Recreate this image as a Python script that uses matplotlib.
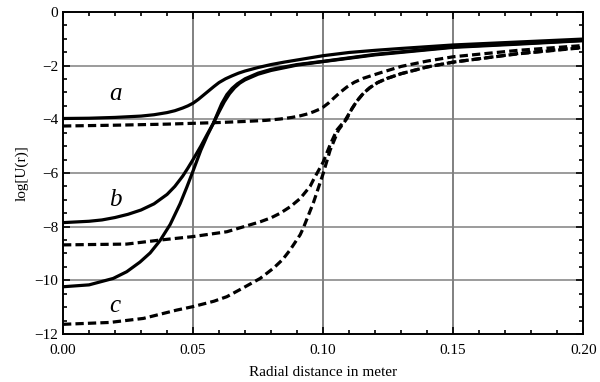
import matplotlib
matplotlib.use("Agg")
import matplotlib.pyplot as plt
from matplotlib.ticker import MultipleLocator

plt.rcParams['font.family'] = ['Liberation Serif', 'DejaVu Serif']

# ---- data ----
solid_a_x = [0, 0.01, 0.02, 0.03, 0.035, 0.04, 0.043, 0.046, 0.048, 0.05, 0.052, 0.054, 0.056, 0.058,
             0.06, 0.0625, 0.065, 0.0675, 0.07, 0.075, 0.08, 0.085, 0.09, 0.1, 0.11, 0.12, 0.13, 0.15,
             0.175, 0.2]
solid_a_y = [-3.97, -3.96, -3.93, -3.88, -3.83, -3.75, -3.68, -3.58, -3.50, -3.40, -3.26, -3.10, -2.94,
             -2.78, -2.63, -2.49, -2.38, -2.28, -2.20, -2.07, -1.96, -1.87, -1.79, -1.63, -1.51, -1.43,
             -1.36, -1.23, -1.12, -1.01]

solid_b_x = [0, 0.01, 0.015, 0.02, 0.025, 0.03, 0.035, 0.04, 0.043, 0.046, 0.048, 0.05, 0.053, 0.0555,
             0.0578, 0.06, 0.062, 0.064, 0.066, 0.068, 0.07, 0.075, 0.08, 0.09, 0.1, 0.12, 0.15, 0.175,
             0.2]
solid_b_y = [-7.85, -7.80, -7.75, -7.66, -7.54, -7.38, -7.15, -6.80, -6.50, -6.12, -5.82, -5.50, -5.00,
             -4.55, -4.15, -3.72, -3.35, -3.05, -2.82, -2.65, -2.53, -2.32, -2.18, -1.98, -1.85, -1.60,
             -1.32, -1.20, -1.07]

solid_c_x = [0, 0.01, 0.0193, 0.0245, 0.0296, 0.0335, 0.0373, 0.0412, 0.045, 0.0476, 0.0501, 0.053,
             0.0555, 0.0578, 0.0595, 0.061, 0.063, 0.065, 0.067, 0.07, 0.075, 0.08, 0.09, 0.1, 0.12,
             0.15, 0.175, 0.2]
solid_c_y = [-10.24, -10.17, -9.93, -9.68, -9.32, -8.98, -8.52, -7.92, -7.15, -6.53, -5.90, -5.15,
             -4.60, -4.15, -3.76, -3.42, -3.08, -2.85, -2.68, -2.49, -2.28, -2.14, -1.96, -1.84, -1.58,
             -1.30, -1.18, -1.06]

dash_a_x = [0, 0.02, 0.04, 0.05, 0.06, 0.07, 0.078, 0.0835, 0.088, 0.0912, 0.094, 0.0963, 0.0985,
            0.1, 0.102, 0.104, 0.1065, 0.1091, 0.112, 0.1155, 0.1219, 0.13, 0.14, 0.15, 0.175, 0.2]
dash_a_y = [-4.25, -4.22, -4.18, -4.15, -4.12, -4.08, -4.04, -3.99, -3.93, -3.87, -3.80, -3.72, -3.63,
            -3.55, -3.40, -3.22, -3.00, -2.80, -2.62, -2.47, -2.27, -2.03, -1.83, -1.67, -1.43, -1.25]

dash_b_x = [0, 0.0245, 0.0373, 0.05, 0.063, 0.0706, 0.0758, 0.08, 0.0835, 0.0875, 0.0912, 0.095,
            0.0963, 0.1, 0.1027, 0.1053, 0.1085, 0.111, 0.113, 0.1155, 0.118, 0.121, 0.1245, 0.13, 0.14,
            0.15, 0.175, 0.2]
dash_b_y = [-8.68, -8.65, -8.50, -8.37, -8.19, -7.97, -7.82, -7.67, -7.50, -7.25, -6.95, -6.50,
            -6.25, -5.60, -4.95, -4.40, -4.03, -3.62, -3.32, -3.03, -2.82, -2.63, -2.48, -2.30, -2.05,
            -1.87, -1.55, -1.32]

dash_c_x = [0, 0.018, 0.0309, 0.0437, 0.05, 0.058, 0.063, 0.0693, 0.0758, 0.0809, 0.0845, 0.0873,
            0.0912, 0.0924, 0.0963, 0.1, 0.1027, 0.1059, 0.1091, 0.111, 0.113, 0.1155, 0.118, 0.121,
            0.1245, 0.13, 0.14, 0.15, 0.175, 0.2]
dash_c_y = [-11.64, -11.57, -11.42, -11.11, -10.98, -10.78, -10.61, -10.28, -9.93, -9.55, -9.22, -8.87,
            -8.30, -8.05, -7.10, -6.03, -5.15, -4.40, -3.98, -3.62, -3.32, -3.03, -2.82, -2.63, -2.48,
            -2.30, -2.05, -1.87, -1.56, -1.33]

curve_labels = ['a', 'b', 'c']
label_x = [0.02, 0.02, 0.02]
label_y = [-3.05, -7.0, -10.95]

x_ticks = [0.0, 0.05, 0.10, 0.15, 0.20]
x_ticklabels = ['0.00', '0.05', '0.10', '0.15', '0.20']
y_ticks = [0, -2, -4, -6, -8, -10, -12]
y_ticklabels = ['0', '\u22122', '\u22124', '\u22126', '\u22128', '\u221210', '\u221212']

# ---- figure ----
fig = plt.figure(figsize=(6.0, 3.82), dpi=100)
ax = fig.add_axes([0.105, 0.1257, 0.867, 0.843])

lw = 2.3
dash = (0, (2.6, 1.3))
for xs, ys in [(solid_a_x, solid_a_y), (solid_b_x, solid_b_y), (solid_c_x, solid_c_y)]:
    ax.plot(xs, ys, color='black', lw=lw, solid_capstyle='butt', solid_joinstyle='round', zorder=3)
for xs, ys in [(dash_a_x, dash_a_y), (dash_b_x, dash_b_y), (dash_c_x, dash_c_y)]:
    ax.plot(xs, ys, color='black', lw=lw, linestyle=dash, zorder=3)

for t, lx, ly in zip(curve_labels, label_x, label_y):
    ax.text(lx, ly, t, fontsize=18, fontstyle='italic', ha='center', va='center')

ax.set_xlim(0, 0.2)
ax.set_ylim(-12, 0)
ax.set_xticks(x_ticks)
ax.set_xticklabels(x_ticklabels)
ax.set_yticks(y_ticks)
ax.set_yticklabels(y_ticklabels)
ax.xaxis.set_minor_locator(MultipleLocator(0.01))
ax.yaxis.set_minor_locator(MultipleLocator(0.5))
ax.tick_params(which='both', direction='in', top=True, right=True, colors='black',
               labelsize=11, width=1.2)
ax.tick_params(axis='x', which='major', pad=7)
ax.tick_params(which='major', length=5)
ax.tick_params(which='minor', length=3)

for gx in x_ticks[1:-1]:
    ax.axvline(gx, color='#808080', lw=1.4, zorder=1)
for gy in y_ticks[1:-1]:
    ax.axhline(gy, color='#808080', lw=1.1, zorder=1)

for s in ax.spines.values():
    s.set_linewidth(1.4)

ax.set_xlabel('Radial distance in meter', fontsize=11, labelpad=7)
ax.set_ylabel('log[U(r)]', fontsize=11, labelpad=4)

fig.savefig('out.png', dpi=100)
